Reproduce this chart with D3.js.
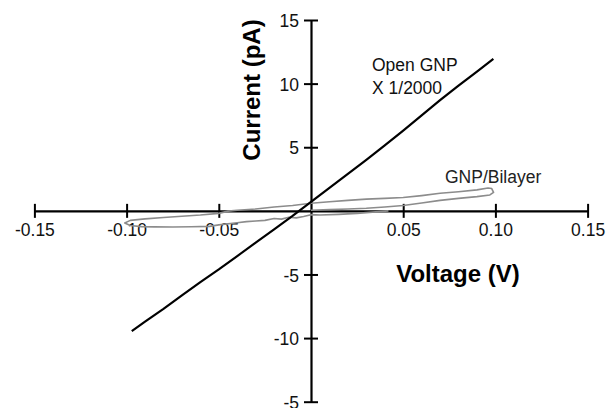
<!DOCTYPE html>
<html>
<head>
<style>
    body { margin: 0; background: #fff; }
    text { font-family: "Liberation Sans", Arial, sans-serif; }
</style>
</head>
<body>
<svg id="container" width="606" height="408"></svg>
<script src="https://cdn.jsdelivr.net/npm/d3@7"></script>
<script>
    // Open GNP trace (already scaled x 1/2000)
    let openV = [-0.0972, -0.09, -0.08, -0.07, -0.06, -0.05, -0.04, -0.03, -0.02, -0.01, 0,
                 0.01, 0.02, 0.03, 0.04, 0.05, 0.06, 0.07, 0.08, 0.09, 0.0989]
    let openI = [-9.45, -8.7, -7.7, -6.65, -5.6, -4.6, -3.55, -2.5, -1.45, -0.4, 0.7,
                 1.8, 2.9, 4.0, 5.15, 6.3, 7.5, 8.7, 9.85, 10.95, 11.95]

    // GNP/Bilayer sweep (loop)
    let bilayerV = [0.042, 0.035, 0.025, 0.015, 0.005, 0.0, -0.004, -0.008, -0.012, -0.016, -0.02,
                    -0.025, -0.03, -0.035, -0.04, -0.05, -0.055, -0.065, -0.075, -0.085, -0.092,
                    -0.098, -0.101, -0.098, -0.09, -0.08, -0.07, -0.06, -0.05, -0.045, -0.04,
                    -0.03, -0.02, -0.01, 0.0, 0.01, 0.02, 0.03, 0.04, 0.05, 0.06, 0.07, 0.08,
                    0.09, 0.096, 0.098, 0.099, 0.097, 0.09, 0.08, 0.07, 0.06, 0.05, 0.04, 0.03,
                    0.02, 0.01, 0.0]
    let bilayerI = [0.0, -0.08, -0.2, -0.28, -0.33, -0.3, -0.45, -0.55, -0.5, -0.65, -0.6,
                    -0.75, -0.8, -0.85, -0.93, -1.1, -1.22, -1.25, -1.27, -1.26, -1.24,
                    -1.15, -0.95, -0.75, -0.63, -0.52, -0.42, -0.33, -0.2, -0.02, 0.05,
                    0.15, 0.3, 0.42, 0.6, 0.72, 0.82, 0.92, 0.98, 1.05, 1.2, 1.38, 1.5,
                    1.65, 1.8, 1.75, 1.45, 1.25, 1.12, 0.98, 0.82, 0.62, 0.42, 0.3, 0.2,
                    0.15, 0.1, 0.05]

    let xTicks = [-0.15, -0.10, -0.05, 0.05, 0.10, 0.15]
    let xTickLabels = ["-0.15", "-0.10", "-0.05", "0.05", "0.10", "0.15"]
    let yTicks = [15, 10, 5, -5, -10, -15]
    let yTickLabels = ["15", "10", "5", "-5", "-10", "-5"]   // bottom label reads -5 in the original

    let svg = d3.select("#container")

    let x = d3.scaleLinear().domain([-0.15, 0.15]).range([34.4, 587.6])
    let y = d3.scaleLinear().domain([-15, 15]).range([401.7, 20])

    // x axis through zero, ticks crossing both sides
    let xAxis = d3.axisBottom(x)
        .tickValues(xTicks)
        .tickSizeInner(7)
        .tickSizeOuter(0)
        .tickFormat((d, i) => xTickLabels[i])
    let gx = svg.append("g")
        .attr("transform", "translate(0," + y(0) + ")")
        .call(xAxis)
    gx.select(".domain").attr("stroke", "#000").attr("stroke-width", 2.2)
    gx.selectAll(".tick line").attr("y1", -7).attr("stroke", "#000").attr("stroke-width", 2)
    gx.selectAll(".tick text")
        .attr("y", 25).attr("dy", 0)
        .attr("fill", "#111")
        .style("font-size", "17.5px")
        .style("font-family", "Liberation Sans, Arial, sans-serif")

    // y axis through zero
    let yAxis = d3.axisLeft(y)
        .tickValues(yTicks)
        .tickSizeInner(7)
        .tickSizeOuter(0)
        .tickFormat((d, i) => yTickLabels[i])
    let gy = svg.append("g")
        .attr("transform", "translate(" + x(0) + ",0)")
        .call(yAxis)
    gy.select(".domain").attr("stroke", "#000").attr("stroke-width", 2.2)
    gy.selectAll(".tick line").attr("x2", 7).attr("x1", -7).attr("stroke", "#000").attr("stroke-width", 2)
    gy.selectAll(".tick text")
        .attr("x", -12).attr("dy", "0.38em")
        .attr("fill", "#111")
        .style("font-size", "17.5px")
        .style("font-family", "Liberation Sans, Arial, sans-serif")

    let line = d3.line().x(d => x(d[0])).y(d => y(d[1]))

    // grey bilayer loop
    svg.append("path")
        .datum(d3.zip(bilayerV, bilayerI))
        .attr("d", line)
        .attr("fill", "none")
        .attr("stroke", "#8c8c8c")
        .attr("stroke-width", 1.6)
        .attr("stroke-linejoin", "round")

    // black open GNP line
    svg.append("path")
        .datum(d3.zip(openV, openI))
        .attr("d", line)
        .attr("fill", "none")
        .attr("stroke", "#000")
        .attr("stroke-width", 2.2)
        .attr("stroke-linejoin", "round")

    // axis titles
    svg.append("text")
        .attr("transform", "translate(260,90) rotate(-90)")
        .attr("text-anchor", "middle")
        .style("font-size", "24px").style("font-weight", "bold")
        .text("Current (pA)")
    svg.append("text")
        .attr("x", 458).attr("y", 282)
        .attr("text-anchor", "middle")
        .style("font-size", "24px").style("font-weight", "bold")
        .text("Voltage (V)")

    // series labels
    svg.append("text").attr("x", 372).attr("y", 71)
        .style("font-size", "17.5px").attr("fill", "#111").text("Open GNP")
    svg.append("text").attr("x", 372).attr("y", 94)
        .style("font-size", "17.5px").attr("fill", "#111").text("X 1/2000")
    svg.append("text").attr("x", 445).attr("y", 183)
        .style("font-size", "17.5px").attr("fill", "#222").text("GNP/Bilayer")
</script>
</body>
</html>
